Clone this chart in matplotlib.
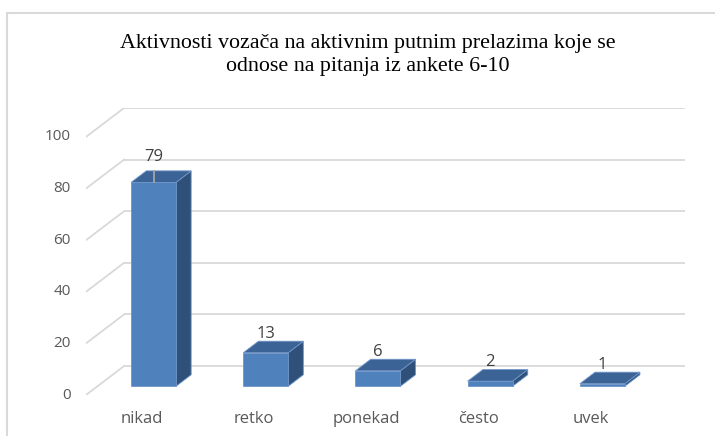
import numpy as np
import matplotlib.pyplot as plt
from matplotlib.patches import Polygon, Rectangle

# Podaci
kategorije = ['nikad', 'retko', 'ponekad', 'često', 'uvek']
vrednosti = [79, 13, 6, 2, 1]
y_ticks = [0, 20, 40, 60, 80, 100]
naslov = 'Aktivnosti vozača na aktivnim putnim prelazima koje se\nodnose na pitanja iz ankete 6-10'

# Boje
FRONT = '#4F81BD'
TOP = '#3C6396'
SIDE = '#2F5079'
EDGE = '#6F95C8'
GRID = '#D9D9D9'
TEXT = '#595959'

# "3D" pomak po dubini (u jedinicama podataka)
DX = 0.339   # po x (kategorije)
DY = 11.2    # po y (vrednosti)
D0, D1 = 0.30, 0.70   # prednja i zadnja strana stubića
BW = 0.40             # širina stubića


def proj(x, y, d):
    return (x + d * DX, y + d * DY)


W, H = 715, 436
fig = plt.figure(figsize=(W / 100, H / 100), dpi=100)

# okvir (vidi se samo gornja i leva ivica)
fig.add_artist(Rectangle((7 / W, -0.1), 1.2, (H - 13) / H + 0.1, transform=fig.transFigure,
                         fill=False, edgecolor='#D9D9D9', linewidth=1.5))

ax = fig.add_axes([86 / W, (H - 395) / H, (685 - 86) / W, (395 - 108) / H])
n = len(kategorije)
ax.set_xlim(0, n + DX)
ax.set_ylim(0, 100 + DY)
ax.axis('off')

# mreža: zadnji zid + leva dijagonala
for t in y_ticks:
    xb, yb = proj(0, t, 1)
    ax.plot([xb, n + DX], [yb, yb], color=GRID, lw=1.3, zorder=1, solid_capstyle='butt')
    ax.plot([0, xb], [t, yb], color=GRID, lw=1.3, zorder=1)
    ax.annotate(str(t), xy=(0, t), xycoords='data', xytext=(-11, 0), textcoords='offset points',
                ha='right', va='center', fontsize=11, color=TEXT, family='Open Sans')

# stubići
for i, v in enumerate(vrednosti):
    x0 = i + 0.5 - BW / 2
    x1 = i + 0.5 + BW / 2
    front = [proj(x0, 0, D0), proj(x1, 0, D0), proj(x1, v, D0), proj(x0, v, D0)]
    side = [proj(x1, 0, D0), proj(x1, 0, D1), proj(x1, v, D1), proj(x1, v, D0)]
    top = [proj(x0, v, D0), proj(x1, v, D0), proj(x1, v, D1), proj(x0, v, D1)]
    for pts, c in [(side, SIDE), (top, TOP), (front, FRONT)]:
        ax.add_patch(Polygon(pts, closed=True, facecolor=c, edgecolor=EDGE,
                             linewidth=0.6, zorder=3))

    # vrednost iznad stubića
    fx, fy = proj(i + 0.5, v, D0)
    pomeraj = 18.5 if v == max(vrednosti) else 13.5
    ax.annotate(str(v), xy=(fx, fy), xytext=(0, pomeraj), textcoords='offset points',
                ha='center', va='center', fontsize=12, color='#404040', family='Open Sans',
                zorder=5)
    if v == max(vrednosti):
        ax.plot([fx, fx], [fy, fy + 4.6], color='#A6A6A6', lw=1.3, zorder=4)

    # natpis kategorije
    ax.annotate(kategorije[i], xy=(i + 0.5, 0), xytext=(0, -17), textcoords='offset points',
                ha='center', va='center', fontsize=12, color=TEXT, family='Open Sans')

fig.text(368 / W, 1 - 55 / H, naslov, ha='center', va='center', fontsize=15.8,
         family='Liberation Serif', color='#000000', linespacing=1.25)

fig.savefig('out.png', dpi=100)
